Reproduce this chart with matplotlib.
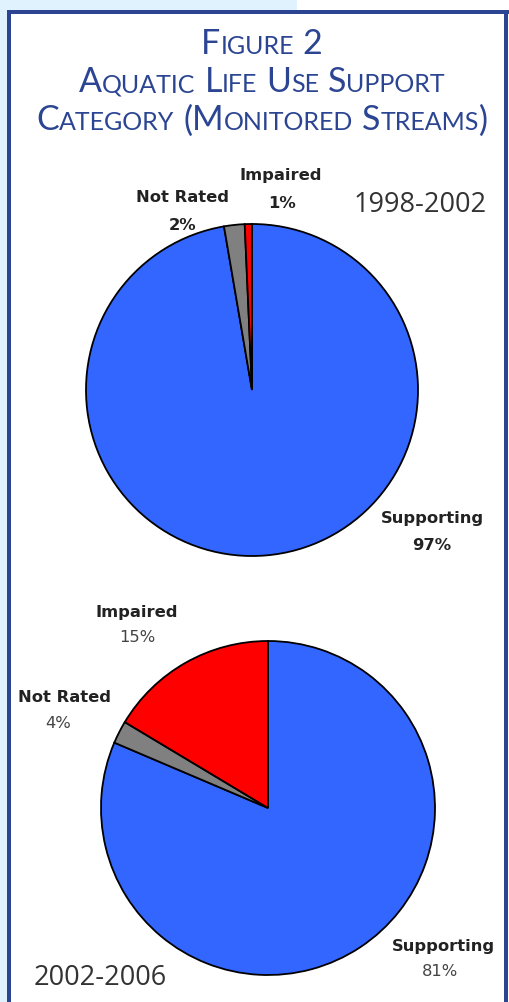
import matplotlib
matplotlib.use("Agg")
import matplotlib.pyplot as plt
from matplotlib.patches import Rectangle

W, H = 509, 1002

# ---- data ----
categories = ["Supporting", "Not Rated", "Impaired"]
values_1998_2002 = [97.3, 2.0, 0.7]
labels_1998_2002 = ["97%", "2%", "1%"]
values_2002_2006 = [81.4, 2.2, 16.4]
labels_2002_2006 = ["81%", "4%", "15%"]
colors = ["#3366FF", "#808080", "#FF0000"]
title_lines = [["Figure", "2"], ["Aquatic", "Life", "Use", "Support"],
               ["Category", "(Monitored", "Streams)"]]

fig = plt.figure(figsize=(W / 100, H / 100), dpi=100)
fig.patch.set_facecolor("white")

def rect(x0, y0, x1, y1, color):
    fig.patches.append(Rectangle((x0 / W, 1 - y1 / H), (x1 - x0) / W, (y1 - y0) / H,
                                 transform=fig.transFigure, facecolor=color,
                                 edgecolor="none", zorder=0))

# background strips and border
LB = "#E0F2FE"
BORDER = "#2B4593"
rect(0, 0, 297, 10, LB)
rect(0, 0, 6.5, H, LB)
rect(6.5, 9.5, W, 14, BORDER)
rect(6.5, 9.5, 11, H, BORDER)
rect(503.5, 9.5, 508, H, BORDER)

# ---- title in small caps ----
renderer = fig.canvas.get_renderer()
TITLE_C = "#2B4593"
big, small = 24.5, 18
baselines = [54.5, 92.5, 130.5]
TF = "Lato"
for words, yb in zip(title_lines, baselines):
    runs = []
    for i, w in enumerate(words):
        if i > 0:
            runs.append((" ", big))
        j = 0
        lead = ""
        while j < len(w) and not w[j].isalpha():
            lead += w[j]; j += 1
        if lead:
            runs.append((lead, big))
        if j < len(w):
            runs.append((w[j].upper(), big))
            buf = ""
            for ch in w[j + 1:]:
                if ch.isalpha():
                    buf += ch.upper()
                else:
                    if buf:
                        runs.append((buf, small)); buf = ""
                    runs.append((ch, big))
            if buf:
                runs.append((buf, small))
    texts, widths = [], []
    for s, sz in runs:
        t = fig.text(0, 1 - yb / H, s, fontsize=sz, family=TF, color=TITLE_C,
                     ha="left", va="baseline")
        texts.append(t)
        if s == " ":
            tt = fig.text(0, 0, "a a", fontsize=sz, family=TF)
            t2 = fig.text(0, 0, "aa", fontsize=sz, family=TF)
            wsp = tt.get_window_extent(renderer).width - t2.get_window_extent(renderer).width
            tt.remove(); t2.remove()
            widths.append(wsp)
        else:
            widths.append(t.get_window_extent(renderer).width)
    total = sum(widths)
    x = 262 - total / 2
    for t, w in zip(texts, widths):
        t.set_x(x / W)
        x += w

# ---- pies ----
for vals, (cx, cy, r) in [(values_1998_2002, (252, 390, 166)),
                          (values_2002_2006, (268, 808, 167))]:
    ax = fig.add_axes([(cx - r) / W, 1 - (cy + r) / H, 2 * r / W, 2 * r / H])
    ax.pie(vals, colors=colors, startangle=90, counterclock=False,
           wedgeprops=dict(edgecolor="black", linewidth=1.3))
    ax.set_xlim(-1, 1)
    ax.set_ylim(-1, 1)
    ax.set_aspect("auto")
    ax.axis("off")

LF = "DejaVu Sans"
TXT = "#222222"
LS = 11.8
def label(x, y, s, bold=True, size=LS, color=TXT):
    fig.text(x / W, 1 - y / H, s, fontsize=size, family=LF,
             fontweight="bold" if bold else "normal", color=color,
             ha="center", va="center")

# 1998-2002 labels
label(281, 175, categories[2])
label(282, 203, labels_1998_2002[2])
label(183, 198, categories[1])
label(183, 225, labels_1998_2002[1])
label(432, 518, categories[0])
label(432, 545, labels_1998_2002[0])
fig.text(420 / W, 1 - 205 / H, "1998-2002", fontsize=19.5, family="Open Sans",
         color="#333333", ha="center", va="center")

# 2002-2006 labels
label(137, 613, categories[2])
label(137, 637, labels_2002_2006[2], bold=False, color="#444444")
label(65, 698, categories[1])
label(58, 723, labels_2002_2006[1], bold=False, color="#444444")
label(443, 947, categories[0])
label(440, 972, labels_2002_2006[0], bold=False, color="#444444")
fig.text(100 / W, 1 - 978 / H, "2002-2006", fontsize=19.5, family="Open Sans",
         color="#333333", ha="center", va="center")

fig.savefig("out.png", dpi=100)
